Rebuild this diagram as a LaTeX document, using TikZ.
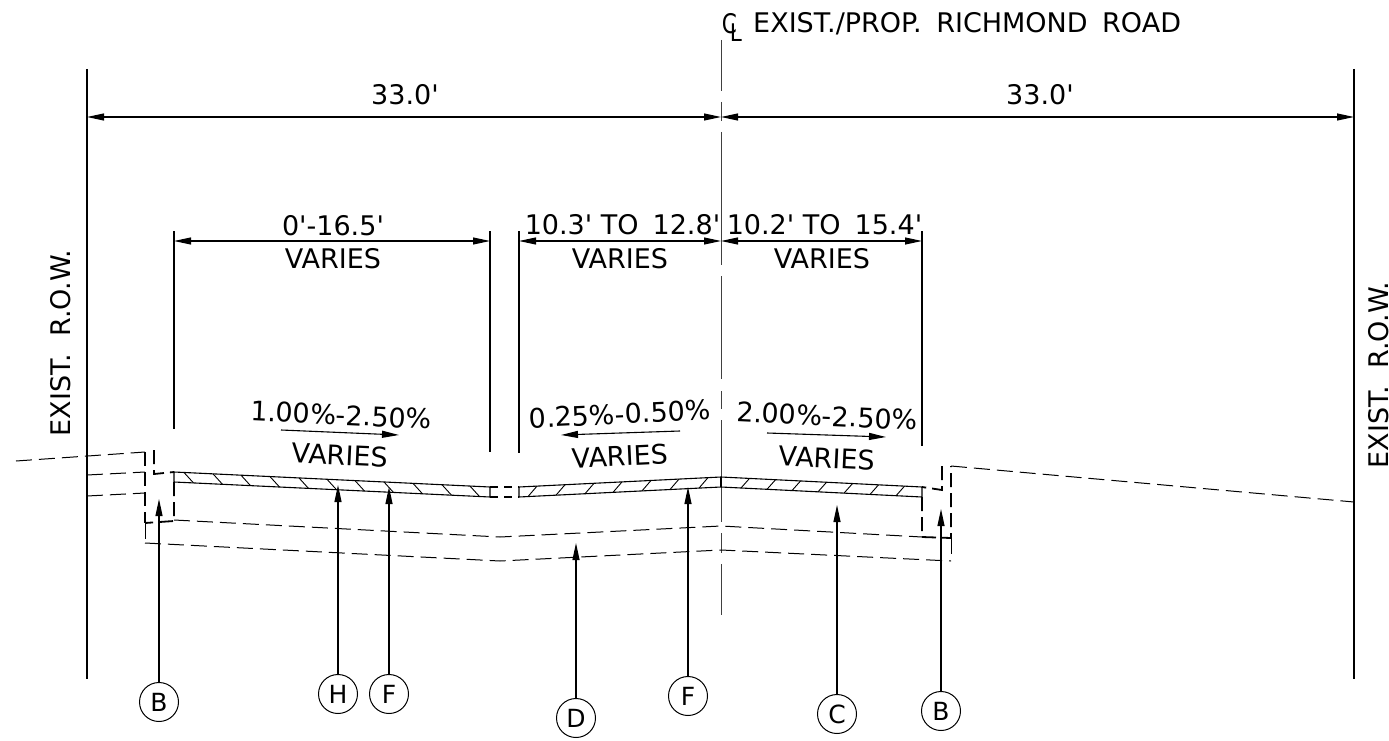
\documentclass[tikz,border=0pt]{standalone}
\usepackage{fontspec}
\usepackage{graphicx}
\newfontfamily\drawfont{DejaVu Sans}
\usetikzlibrary{arrows.meta}
\tikzset{
    dimtip/.tip={Stealth[inset=0pt,length=17pt,width=7pt]},
    lbl/.style={font=\drawfont\fontsize{27}{30}\selectfont, inner sep=0pt},
    callout/.style={draw, circle, line width=1pt, minimum size=39pt, inner sep=0pt, font=\drawfont\fontsize{25}{28}\selectfont},
    thinline/.style={line width=1.1pt},
    dimline/.style={line width=1.1pt, dimtip-dimtip},
    slopeline/.style={line width=1.1pt, -dimtip},
    leader/.style={line width=1.1pt, -dimtip},
    thindash/.style={line width=1pt, dash pattern=on 16pt off 7pt},
    heavydash/.style={line width=1.8pt, dash pattern=on 14pt off 6pt},
    hatchline/.style={line width=0.9pt},
}
\begin{document}
\begin{tikzpicture}[x=1pt, y=-1pt]
    \useasboundingbox (0,0) rectangle (1389,741);
    % Right of way and centre line
    \coordinate (rowLtop) at (87,69);
    \coordinate (rowLbot) at (87,679);
    \coordinate (rowRtop) at (1354,69);
    \coordinate (rowRbot) at (1354,679);
    \coordinate (cltop) at (721,40);
    \coordinate (clbot) at (721,615);
    \draw[thinline] (rowLtop) -- (rowLbot);
    \draw[thinline] (rowRtop) -- (rowRbot);
    \draw[line width=1pt, black!75, dash pattern=on 51pt off 11pt on 19pt off 11pt on 133pt off 11pt on 103pt off 12pt on 18pt off 11pt on 102pt off 11pt on 20pt off 11pt on 51pt off 100pt] (cltop) -- (clbot);
    \node[lbl] (clC) at (729.5,24) {\scalebox{0.8}[1]{C}};
    \node[lbl] (clL) at (736,32.5) {\scalebox{0.8}[0.9]{L}};
    \node[lbl, anchor=west] (roadname) at (753,24) {EXIST./PROP.\hspace{14.5pt}RICHMOND\hspace{14.5pt}ROAD};
    \node[lbl, rotate=90] (rowLtext) at (61,343) {EXIST.\ \ R.O.W.};
    \node[lbl, rotate=90] (rowRtext) at (1379,375) {EXIST.\ \ R.O.W.};

    % Overall dimensions
    \coordinate (topL) at (87,117);
    \coordinate (topM) at (721,117);
    \coordinate (topR) at (1354,117);
    \draw[dimline] (topL) -- (topM);
    \draw[dimline] (topM) -- (topR);
    \node[lbl] (dimA) at (405,95) {33.0'};
    \node[lbl] (dimB) at (1040,95) {33.0'};

    % Lane dimensions
    \coordinate (extAtop) at (174,231);
    \coordinate (extAbot) at (174,429);
    \coordinate (extBtop) at (490,231);
    \coordinate (extBbot) at (490,452);
    \coordinate (extCtop) at (519,231);
    \coordinate (extCbot) at (519,453);
    \coordinate (extDtop) at (922,231);
    \coordinate (extDbot) at (922,446);
    \draw[thinline] (extAtop) -- (extAbot);
    \draw[thinline] (extBtop) -- (extBbot);
    \draw[thinline] (extCtop) -- (extCbot);
    \draw[thinline] (extDtop) -- (extDbot);
    \coordinate (dimAl) at (174,241);
    \coordinate (dimAr) at (490,241);
    \coordinate (dimBl) at (519,241);
    \coordinate (dimBm) at (721,241);
    \coordinate (dimBr) at (922,241);
    \draw[dimline] (dimAl) -- (dimAr);
    \draw[dimline] (dimBl) -- (dimBm);
    \draw[dimline] (dimBm) -- (dimBr);
    \node[lbl] (laneA) at (333,226) {0'-16.5'};
    \node[lbl] (laneB) at (622.5,225) {10.3'\ TO\hspace{14pt}12.8'};
    \node[lbl] (laneC) at (824.5,225) {10.2'\ TO\hspace{14pt}15.4'};
    \node[lbl] (varA) at (333,259) {VARIES};
    \node[lbl] (varB) at (620,259) {VARIES};
    \node[lbl] (varC) at (822,259) {VARIES};

    % Cross slopes
    \coordinate (slopeAs) at (281,430);
    \coordinate (slopeAe) at (399,435);
    \coordinate (slopeBs) at (680,431);
    \coordinate (slopeBe) at (561,435);
    \coordinate (slopeCs) at (767,433);
    \coordinate (slopeCe) at (886,437);
    \draw[slopeline] (slopeAs) -- (slopeAe);
    \draw[slopeline] (slopeBs) -- (slopeBe);
    \draw[slopeline] (slopeCs) -- (slopeCe);
    \node[lbl, rotate=-2.7] (gradeA) at (341,415) {1.00\%-2.50\%};
    \node[lbl, rotate=2.7] (gradeB) at (620,414) {0.25\%-0.50\%};
    \node[lbl, rotate=-2.7] (gradeC) at (827,416) {2.00\%-2.50\%};
    \node[lbl, rotate=-2.7] (varD) at (340,455) {VARIES};
    \node[lbl, rotate=2.7] (varE) at (620,456) {VARIES};
    \node[lbl, rotate=-2.7] (varF) at (827,458) {VARIES};

    % Pavement
    \coordinate (pavAt) at (174,472);
    \coordinate (pavAb) at (174,482);
    \coordinate (pavBt) at (490,487);
    \coordinate (pavBb) at (490,497);
    \coordinate (pavCt) at (519,487);
    \coordinate (pavCb) at (519,497);
    \coordinate (pavDt) at (721,477);
    \coordinate (pavDb) at (721,487);
    \coordinate (pavEt) at (922,487);
    \coordinate (pavEb) at (922,497);
    \draw[thinline] (pavAb) -- (pavAt) -- (pavBt) -- (pavBb) -- (pavAb);
    \draw[thinline] (pavCb) -- (pavCt) -- (pavDt) -- (pavDb) -- (pavCb);
    \draw[thinline] (pavDt) -- (pavEt) -- (pavEb) -- (pavDb);
    \draw[line width=1.8pt] (pavDt) -- (pavDb);
    \draw[heavydash, dash pattern=on 8pt off 6pt] (pavBt) -- (pavCt);
    \draw[heavydash, dash pattern=on 8pt off 6pt] (pavBb) -- (pavCb);
    \foreach \x in {184,213,241,270,299,327,355,384,413,442,470}
        \draw[hatchline] ({\x},{472+(\x-174)*0.0475}) -- ({\x+9.5},{482+(\x+9.5-174)*0.0475});
    \foreach \x in {528,556,585,613,642,670,699}
        \draw[hatchline] ({\x},{497-(\x-519)*0.0495}) -- ({\x+9},{487-(\x+9-519)*0.0495});
    \foreach \x in {741,767,792,818,844,870,896}
        \draw[hatchline] ({\x},{487+(\x-721)*0.05}) -- ({\x+8.5},{477+(\x+8.5-721)*0.05});

    % Layers below the pavement
    \coordinate (baseA) at (174,520);
    \coordinate (baseB) at (500,537);
    \coordinate (baseC) at (721,526);
    \coordinate (baseD) at (922,537);
    \coordinate (subA) at (145,543);
    \coordinate (subB) at (500,561);
    \coordinate (subC) at (721,550);
    \coordinate (subD) at (951,561);
    \draw[thindash] (baseA) -- (baseB) -- (baseC) -- (baseD);
    \draw[thindash] (subA) -- (subB) -- (subC) -- (subD);

    % Left edge
    \coordinate (groundLa) at (16,461);
    \coordinate (groundLb) at (145,452);
    \coordinate (layLa) at (87,475);
    \coordinate (layLb) at (145,472);
    \coordinate (layLc) at (87,496);
    \coordinate (layLd) at (145,493);
    \coordinate (curbLa) at (145,523);
    \coordinate (curbLb) at (174,521);
    \coordinate (curbLc) at (154,450);
    \coordinate (curbLd) at (154,474);
    \draw[thindash] (groundLa) -- (groundLb);
    \draw[thindash] (layLa) -- (layLb);
    \draw[thindash] (layLc) -- (layLd);
    \draw[heavydash] (groundLb) -- (curbLa);
    \draw[thindash] (curbLa) -- (subA);
    \draw[heavydash] (pavAb) -- (curbLb) -- (curbLa);
    \draw[heavydash] (curbLc) -- (curbLd) -- (pavAt);

    % Right edge
    \coordinate (groundRa) at (951,466);
    \coordinate (groundRb) at (1354,502);
    \coordinate (curbRa) at (951,538);
    \coordinate (curbRb) at (942,466);
    \coordinate (curbRc) at (942,490);
    \draw[thindash] (groundRa) -- (groundRb);
    \draw[heavydash] (pavEb) -- (baseD) -- (curbRa) -- (groundRa);
    \draw[thindash] (curbRa) -- (subD);
    \draw[heavydash] (curbRb) -- (curbRc) -- (pavEt);

    % Callouts
    \node[callout] (calloutBl) at (159,702) {B};
    \node[callout] (calloutH) at (338,694) {H};
    \node[callout] (calloutFl) at (389,694) {F};
    \node[callout] (calloutD) at (576,718) {D};
    \node[callout] (calloutFr) at (688,696) {F};
    \node[callout] (calloutC) at (837,714) {C};
    \node[callout] (calloutBr) at (941,711) {B};
    \coordinate (tipBl) at (159,499);
    \coordinate (tipH) at (338,485);
    \coordinate (tipFl) at (389,487);
    \coordinate (tipD) at (576,543);
    \coordinate (tipFr) at (688,487);
    \coordinate (tipC) at (837,505);
    \coordinate (tipBr) at (941,509);
    \draw[leader] (calloutBl) -- (tipBl);
    \draw[leader] (calloutH) -- (tipH);
    \draw[leader] (calloutFl) -- (tipFl);
    \draw[leader] (calloutD) -- (tipD);
    \draw[leader] (calloutFr) -- (tipFr);
    \draw[leader] (calloutC) -- (tipC);
    \draw[leader] (calloutBr) -- (tipBr);
\end{tikzpicture}
\end{document}
